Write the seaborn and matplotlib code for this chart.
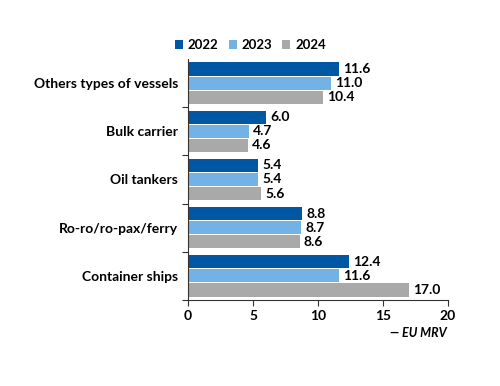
import matplotlib.pyplot as plt
import pandas as pd
import seaborn as sns

categories = ["Others types of vessels", "Bulk carrier", "Oil tankers",
              "Ro-ro/ro-pax/ferry", "Container ships"]
years = ["2022", "2023", "2024"]
values_2022 = [11.6, 6.0, 5.4, 8.8, 12.4]
values_2023 = [11.0, 4.7, 5.4, 8.7, 11.6]
values_2024 = [10.4, 4.6, 5.6, 8.6, 17.0]
colors = ["#0057A3", "#72B2E4", "#A9A9A9"]

rows = []
for year, vals in zip(years, [values_2022, values_2023, values_2024]):
    for cat, v in zip(categories, vals):
        rows.append({"type": cat, "year": year, "value": v})
df = pd.DataFrame(rows)

sns.set_style("white")
plt.rcParams["font.family"] = ["Lato", "DejaVu Sans"]
plt.rcParams["font.weight"] = "bold"
plt.rcParams["text.color"] = "black"
plt.rcParams["xtick.color"] = "black"
plt.rcParams["ytick.color"] = "black"

fig = plt.figure(figsize=(5, 3.86), dpi=100)
ax = fig.add_axes([0.376, 0.223, 0.52, 0.624])

sns.barplot(data=df, y="type", x="value", hue="year", order=categories,
            hue_order=years, palette=colors, width=0.88, orient="h",
            saturation=1, linewidth=0, ax=ax)

# small gaps between bars
for bar in ax.patches:
    h = bar.get_height()
    bar.set_height(h * 0.93)
    bar.set_y(bar.get_y() + h * 0.035)

for cont in ax.containers:
    ax.bar_label(cont, fmt="%.1f", padding=3, fontsize=10, fontweight="bold")

ax.set_xlim(0, 20)
ax.set_ylim(4.5, -0.5)
ax.set_xticks([0, 5, 10, 15, 20])
ax.set_xlabel("")
ax.set_ylabel("")
ax.tick_params(axis="x", labelsize=10, length=4, width=0.8, color="#333333",
               direction="out", bottom=True)
ax.tick_params(axis="y", which="major", length=0, labelsize=10, pad=7)
ax.set_yticks([i + 0.5 for i in range(0, 5)], minor=True)
ax.tick_params(axis="y", which="minor", length=4, width=0.8, color="#333333",
               left=True)
for lab in ax.get_xticklabels() + ax.get_yticklabels():
    lab.set_fontweight("bold")

sns.despine(ax=ax)
for s in ["left", "bottom"]:
    ax.spines[s].set_color("#333333")
    ax.spines[s].set_linewidth(0.8)

ax.legend(loc="lower center", bbox_to_anchor=(0.24, 1.0), ncol=3, frameon=False,
          fontsize=9.5, handlelength=0.6, handleheight=0.6, handletextpad=0.35,
          columnspacing=0.8, borderaxespad=0.2)
for t in ax.get_legend().get_texts():
    t.set_fontweight("bold")

fig.text(0.893, 0.137, "— EU MRV", ha="right", va="center", fontsize=9,
         style="italic", fontweight="bold")

fig.savefig("out.png", dpi=100)
